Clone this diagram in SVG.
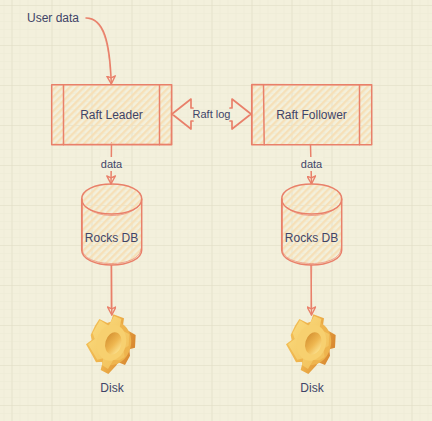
<svg xmlns="http://www.w3.org/2000/svg" width="432" height="421" viewBox="0 0 432 421">
<style>
.l{fill:none;stroke:#e9806a;stroke-width:1.5;stroke-linejoin:round;stroke-linecap:round}
.o{fill:none;stroke:#e9806a;stroke-width:1;stroke-opacity:.65;stroke-linejoin:round;stroke-linecap:round}
.h{fill:url(#hatch);stroke:#e9806a;stroke-width:1.500;stroke-linejoin:round}
.t{font-family:"Liberation Sans","Noto Sans",sans-serif;font-size:12px;fill:#3f4468;text-anchor:middle}
.s{font-size:11px}
</style>
<defs>
<pattern id="minor" width="8" height="8" patternUnits="userSpaceOnUse" x="3.5" y="5"><path d="M0 0H8M0 0V8" stroke="#ebe9d3" stroke-width="1" fill="none"/></pattern>
<pattern id="major" width="40" height="40" patternUnits="userSpaceOnUse" x="11.5" y="5"><path d="M0 0H40M0 0V40" stroke="#e1ddc5" stroke-width="1.2" fill="none"/></pattern>
<pattern id="hatch" width="5" height="5" patternUnits="userSpaceOnUse" patternTransform="rotate(45)"><rect width="2.4" height="5" fill="#f6e0b8"/></pattern>
<marker id="a" viewBox="0 0 10 10" refX="9" refY="5" markerWidth="9.500" markerHeight="9.500" markerUnits="userSpaceOnUse" orient="auto"><path d="M9 5L.5 .5L2.500 5L.5 9.500Z" fill="none" stroke="#e9806a" stroke-width="1.500" stroke-linejoin="round"/></marker>
<linearGradient id="g" x1="0" y1="0" x2="1" y2=".4"><stop offset="0" stop-color="#f4c45c"/><stop offset=".6" stop-color="#eeb049"/><stop offset="1" stop-color="#d98a32"/></linearGradient>
<linearGradient id="f" x1="0" y1="0" x2="1" y2="1"><stop offset="0" stop-color="#fbdd80"/><stop offset="1" stop-color="#f0bb54"/></linearGradient>
<linearGradient id="gh" x1="0" y1="0" x2="1" y2=".7"><stop offset="0" stop-color="#cf8a2c"/><stop offset=".6" stop-color="#eeb64f"/><stop offset="1" stop-color="#fbe08c"/></linearGradient>
<g id="gear">
<path d="M58 42L90 58L100 28L132 40L128 68L150 80L167 90L165 128L148 133L150 152L135 180L115 172L108 182L85 207L62 195L68 170L48 172L35 148L18 118L35 105L32 90L45 62Z" fill="url(#g)"/>
<ellipse cx="97" cy="115" rx="56" ry="66" transform="rotate(15 97 115)" fill="#eeb44e"/>
<path d="M60 46L86 62L102 33L124 42L118 72L148 88L146 122L130 132L134 156L118 166L100 165L84 192L66 180L70 160L52 164L24 118L44 102L38 84L48 66Z" fill="url(#f)"/>
<ellipse cx="94" cy="113" rx="44" ry="55" transform="rotate(15 94 113)" fill="#f7d06f"/>
<ellipse cx="100" cy="115" rx="24" ry="34" transform="rotate(15 100 115)" fill="url(#gh)"/>
</g>
</defs>
<rect width="432" height="421" fill="#f3f0dc"/>
<rect width="432" height="421" fill="url(#minor)"/>
<rect width="432" height="421" fill="url(#major)"/>
<g id="connectors">
<path class="l" d="M86 18C104 18 110 42 111.300 84" marker-end="url(#a)"/>
<path class="o" d="M88 18.500C103 20 109 44 110.500 76"/>
<path class="l" d="M111.500 143L111 184" marker-end="url(#a)"/>
<path class="l" d="M310.500 145L311.500 184" marker-end="url(#a)"/>
<path class="l" d="M111.500 265L111.800 315" marker-end="url(#a)"/>
<path class="o" d="M111 265L111 308"/>
<path class="l" d="M311 265L311.500 315" marker-end="url(#a)"/>
<path class="o" d="M311.800 265L311 308"/>
</g>
<g id="raft-log">
<path class="l" style="stroke-width:1.700" d="M193 108H191V99L172 114L191 129V121H193M230 108H232V99L251 114L232 129V121H230"/>
<text class="t s" x="211.500" y="118">Raft log</text>
</g>
<g id="label-data-1"><rect x="100" y="157" width="23" height="14" fill="#f3f0dc"/><text class="t s" x="111.500" y="168">data</text></g>
<g id="label-data-2"><rect x="300" y="157" width="23" height="14" fill="#f3f0dc"/><text class="t s" x="311.500" y="168">data</text></g>
<g id="user-data"><text class="t" x="53" y="22">User data</text></g>
<g id="raft-leader">
<rect class="h" x="51.700" y="84.700" width="120" height="60"/>
<path class="l" d="M63.500 84.700V144.700M159.500 84.700V144.700"/>
<path class="o" d="M171.300 85L171 144M52 144.300L171 144"/>
<text class="t" x="111.500" y="118.500">Raft Leader</text>
</g>
<g id="raft-follower">
<rect class="h" x="251.700" y="84.700" width="120" height="60"/>
<path class="l" d="M263.500 84.700L264.200 144.700M359.500 84.700V144.700"/>
<path class="o" d="M252.300 85L252.300 144M252 84.200L371 85"/>
<text class="t" x="311.500" y="118.500">Raft Follower</text>
</g>
<g id="rocks-db-1">
<path class="h" d="M81.700 199C81.700 190 95 184 111.700 184S141.700 190 141.700 199V250C141.700 259 128 265 111.700 265S81.700 259 81.700 250Z"/>
<path class="l" d="M81.700 199C81.700 208 95 214 111.700 214S141.700 208 141.700 199"/>
<path class="o" d="M83 204C90 212 100 215.500 112 215.500S134 212 141.300 203M82.500 199V250C83 258 96 263.500 111.700 263.500S140.500 258 141 249"/>
<text class="t" x="111.500" y="242">Rocks DB</text>
</g>
<g id="rocks-db-2">
<path class="h" d="M281.700 199C281.700 190 295 184 311.700 184S341.700 190 341.700 199V250C341.700 259 328 265 311.700 265S281.700 259 281.700 250Z"/>
<path class="l" d="M281.700 199C281.700 208 295 214 311.700 214S341.700 208 341.700 199"/>
<path class="o" d="M283 204C290 212 300 215.500 312 215.500S334 212 341.300 203M282.500 199V250C283 258 296 263.500 311.700 263.500S340.500 258 341 249"/>
<text class="t" x="311.500" y="242">Rocks DB</text>
</g>
<g id="disk-1"><use href="#gear" transform="translate(80 305) scale(.3333)"/><text class="t" x="112" y="392">Disk</text></g>
<g id="disk-2"><use href="#gear" transform="translate(280 305) scale(.3333)"/><text class="t" x="312" y="392">Disk</text></g>
</svg>
